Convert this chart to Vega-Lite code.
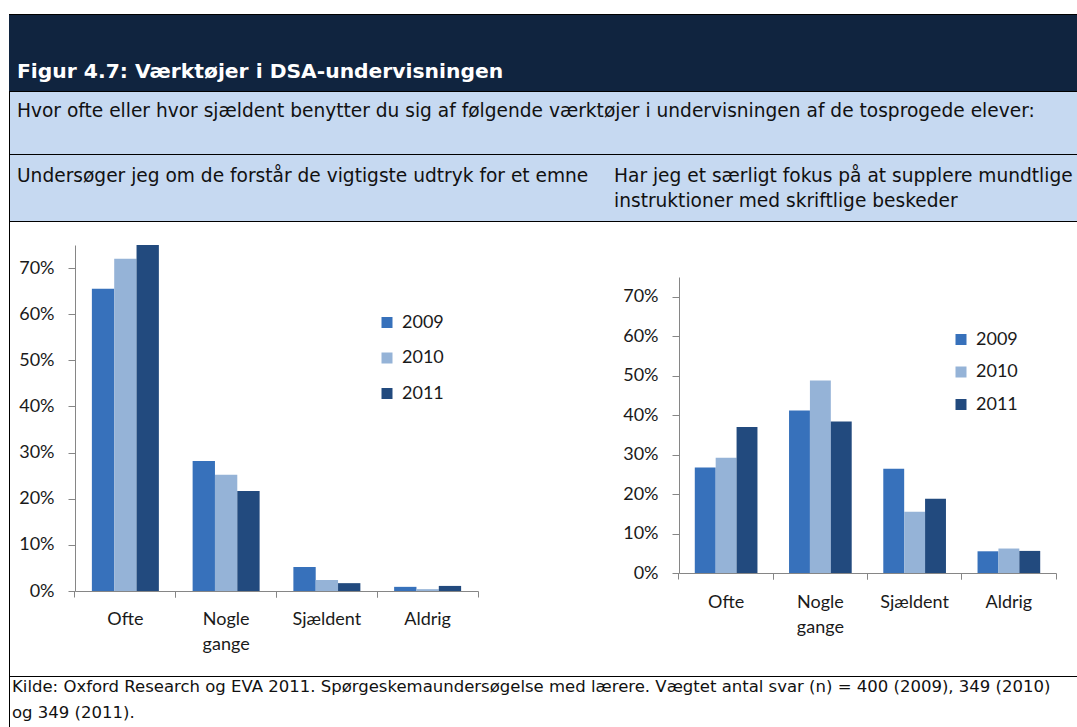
{
  "$schema": "https://vega.github.io/schema/vega-lite/v6.json",
  "padding": {"left": 9, "top": 14, "right": 0, "bottom": 0},
  "background": "#ffffff",
  "config": {"view": {"stroke": null}, "concat": {"spacing": 0}},
  "datasets": {
    "a": [
      {"kategori": "Ofte", "aar": "2009", "andel": 0.655},
      {"kategori": "Ofte", "aar": "2010", "andel": 0.72},
      {"kategori": "Ofte", "aar": "2011", "andel": 0.75},
      {"kategori": "Nogle gange", "aar": "2009", "andel": 0.282},
      {"kategori": "Nogle gange", "aar": "2010", "andel": 0.252},
      {"kategori": "Nogle gange", "aar": "2011", "andel": 0.217},
      {"kategori": "Sjældent", "aar": "2009", "andel": 0.052},
      {"kategori": "Sjældent", "aar": "2010", "andel": 0.024},
      {"kategori": "Sjældent", "aar": "2011", "andel": 0.017},
      {"kategori": "Aldrig", "aar": "2009", "andel": 0.009},
      {"kategori": "Aldrig", "aar": "2010", "andel": 0.004},
      {"kategori": "Aldrig", "aar": "2011", "andel": 0.011}
    ],
    "b": [
      {"kategori": "Ofte", "aar": "2009", "andel": 0.267},
      {"kategori": "Ofte", "aar": "2010", "andel": 0.292},
      {"kategori": "Ofte", "aar": "2011", "andel": 0.37},
      {"kategori": "Nogle gange", "aar": "2009", "andel": 0.412},
      {"kategori": "Nogle gange", "aar": "2010", "andel": 0.488},
      {"kategori": "Nogle gange", "aar": "2011", "andel": 0.384},
      {"kategori": "Sjældent", "aar": "2009", "andel": 0.264},
      {"kategori": "Sjældent", "aar": "2010", "andel": 0.155},
      {"kategori": "Sjældent", "aar": "2011", "andel": 0.188},
      {"kategori": "Aldrig", "aar": "2009", "andel": 0.055},
      {"kategori": "Aldrig", "aar": "2010", "andel": 0.062},
      {"kategori": "Aldrig", "aar": "2011", "andel": 0.056}
    ],
    "none": []
  },
  "spacing": 0,
  "resolve": {"scale": {"color": "independent", "xOffset": "independent"}, "legend": {"color": "independent"}},
  "vconcat": [
    {"width": 1068, "height": 1, "view": {"fill": "#000000", "stroke": null}, "data": {"name": "none"}, "mark": "text", "encoding": {"text": {"value": ""}}},
    {"width": 1068, "height": 76, "view": {"fill": "#10243f", "stroke": null}, "data": {"name": "none"}, "mark": "text", "encoding": {"text": {"value": ""}},
      "title": {"text": "Figur 4.7: Værktøjer i DSA-undervisningen", "orient": "bottom", "anchor": "start", "frame": "group", "offset": -12.7, "dx": 8, "baseline": "alphabetic", "font": "DejaVu Sans", "fontSize": 20.3, "fontWeight": "bold", "color": "#ffffff"}},
    {"width": 1068, "height": 1, "view": {"fill": "#000000", "stroke": null}, "data": {"name": "none"}, "mark": "text", "encoding": {"text": {"value": ""}}},
    {
      "bounds": "flush", "spacing": 0,
      "hconcat": [
        {"width": 1, "height": 62, "view": {"fill": "#000000", "stroke": null}, "data": {"name": "none"}, "mark": "text", "encoding": {"text": {"value": ""}}},
        {"width": 1067, "height": 62, "view": {"fill": "#c6d9f1", "stroke": null}, "data": {"name": "none"}, "mark": "text", "encoding": {"text": {"value": ""}},
          "title": {"text": "Hvor ofte eller hvor sjældent benytter du sig af følgende værktøjer i undervisningen af de tosprogede elever:", "orient": "bottom", "anchor": "start", "frame": "group", "offset": -37.3, "dx": 7, "baseline": "alphabetic", "font": "DejaVu Sans", "fontSize": 18.6, "fontWeight": "normal", "color": "#111111"}}
      ]
    },
    {"width": 1068, "height": 1, "view": {"fill": "#000000", "stroke": null}, "data": {"name": "none"}, "mark": "text", "encoding": {"text": {"value": ""}}},
    {
      "bounds": "flush", "spacing": 0,
      "hconcat": [
        {"width": 1, "height": 66, "view": {"fill": "#000000", "stroke": null}, "data": {"name": "none"}, "mark": "text", "encoding": {"text": {"value": ""}}},
        {"width": 596, "height": 66, "view": {"fill": "#c6d9f1", "stroke": null}, "data": {"name": "none"}, "mark": "text", "encoding": {"text": {"value": ""}},
          "title": {"text": "Undersøger jeg om de forstår de vigtigste udtryk for et emne", "orient": "bottom", "anchor": "start", "frame": "group", "offset": -39.3, "dx": 7, "baseline": "alphabetic", "font": "DejaVu Sans", "fontSize": 18.6, "fontWeight": "normal", "color": "#111111"}},
        {"width": 471, "height": 66, "view": {"fill": "#c6d9f1", "stroke": null}, "data": {"name": "none"}, "mark": "text", "encoding": {"text": {"value": ""}},
          "title": {"text": ["Har jeg et særligt fokus på at supplere mundtlige", "instruktioner med skriftlige beskeder"], "lineHeight": 25, "orient": "bottom", "anchor": "start", "frame": "group", "offset": -39.3, "dx": 8, "baseline": "alphabetic", "font": "DejaVu Sans", "fontSize": 18.6, "fontWeight": "normal", "color": "#111111"}}
      ]
    },
    {"width": 1068, "height": 1, "view": {"fill": "#000000", "stroke": null}, "data": {"name": "none"}, "mark": "text", "encoding": {"text": {"value": ""}}},
    {
      "bounds": "flush", "spacing": 0,
      "resolve": {"scale": {"color": "independent", "xOffset": "independent"}, "legend": {"color": "independent"}},
      "hconcat": [
        {"width": 1, "height": 454, "view": {"fill": "#000000", "stroke": null}, "data": {"name": "none"}, "mark": "text", "encoding": {"text": {"value": ""}}},
        {"width": 65, "height": 1, "data": {"name": "none"}, "mark": "text", "encoding": {"text": {"value": ""}}},
        {
          "width": 403, "height": 369,
          "data": {"name": "a"},
          "encoding": {
            "xOffset": {"field": "aar", "type": "nominal", "scale": {"paddingInner": 0, "paddingOuter": 0}},
            "y": {"field": "andel", "type": "quantitative", "scale": {"domain": [0, 0.75], "nice": false, "range": [369, 23]},
              "axis": {"orient": "left", "values": [0, 0.1, 0.2, 0.3, 0.4, 0.5, 0.6, 0.7], "format": ".0%", "grid": false, "title": null, "domainColor": "#868686", "tickColor": "#868686", "tickSize": 7, "labelPadding": 14, "labelFont": "Lato", "labelFontSize": 18, "labelColor": "#1a1a1a"}},
            "color": {"field": "aar", "type": "nominal", "scale": {"domain": ["2009", "2010", "2011"], "range": ["#3771bb", "#95b3d7", "#224a7e"]},
              "legend": {"title": null, "orient": "none", "legendX": 303, "legendY": 91.5, "symbolType": "square", "symbolSize": 121, "symbolStrokeWidth": 0, "symbolOpacity": 1, "labelFont": "Lato", "labelFontSize": 18, "labelColor": "#1a1a1a", "rowPadding": 17.5, "labelOffset": 6}}
          },
          "layer": [
            {"mark": {"type": "bar"},
              "encoding": {"x": {"field": "kategori", "type": "nominal", "sort": ["Ofte", "Nogle gange", "Sjældent", "Aldrig"], "scale": {"paddingInner": 0.335, "paddingOuter": 0.1675},
                "axis": {"orient": "bottom", "title": null, "ticks": false, "tickSize": 0, "labelAngle": 0, "labelOverlap": false, "labelExpr": "datum.value == 'Nogle gange' ? ['Nogle', 'gange'] : datum.value", "labelFont": "Lato", "labelFontSize": 18, "labelColor": "#1a1a1a", "labelLineHeight": 25, "labelPadding": 19.5, "domainColor": "#868686"}}}},
            {"mark": {"type": "bar", "opacity": 0},
              "encoding": {"x": {"field": "kategori", "type": "nominal", "sort": ["Ofte", "Nogle gange", "Sjældent", "Aldrig"], "scale": {"paddingInner": 0.335, "paddingOuter": 0.1675},
                "axis": {"orient": "bottom", "title": null, "bandPosition": -0.2519, "labels": false, "domain": false, "tickSize": 6, "tickColor": "#868686"}}}},
            {"mark": {"type": "bar", "opacity": 0},
              "encoding": {"x": {"field": "kategori", "type": "nominal", "sort": ["Ofte", "Nogle gange", "Sjældent", "Aldrig"], "scale": {"paddingInner": 0.335, "paddingOuter": 0.1675},
                "axis": {"orient": "bottom", "title": null, "bandPosition": 1.2519, "labels": false, "domain": false, "tickSize": 6, "tickColor": "#868686"}}}}
          ],
          "resolve": {"axis": {"x": "independent"}}
        },
        {"width": 201, "height": 1, "data": {"name": "none"}, "mark": "text", "encoding": {"text": {"value": ""}}},
        {
          "width": 377, "height": 351,
          "data": {"name": "b"},
          "encoding": {
            "xOffset": {"field": "aar", "type": "nominal", "scale": {"paddingInner": 0, "paddingOuter": 0}},
            "y": {"field": "andel", "type": "quantitative", "scale": {"domain": [0, 0.75], "nice": false, "range": [351, 55]},
              "axis": {"orient": "left", "values": [0, 0.1, 0.2, 0.3, 0.4, 0.5, 0.6, 0.7], "format": ".0%", "grid": false, "title": null, "domainColor": "#868686", "tickColor": "#868686", "tickSize": 7, "labelPadding": 14, "labelFont": "Lato", "labelFontSize": 18, "labelColor": "#1a1a1a"}},
            "color": {"field": "aar", "type": "nominal", "scale": {"domain": ["2009", "2010", "2011"], "range": ["#3771bb", "#95b3d7", "#224a7e"]},
              "legend": {"title": null, "orient": "none", "legendX": 273, "legendY": 108.5, "symbolType": "square", "symbolSize": 121, "symbolStrokeWidth": 0, "symbolOpacity": 1, "labelFont": "Lato", "labelFontSize": 18, "labelColor": "#1a1a1a", "rowPadding": 14.5, "labelOffset": 6}}
          },
          "layer": [
            {"mark": {"type": "bar"},
              "encoding": {"x": {"field": "kategori", "type": "nominal", "sort": ["Ofte", "Nogle gange", "Sjældent", "Aldrig"], "scale": {"paddingInner": 0.335, "paddingOuter": 0.1675},
                "axis": {"orient": "bottom", "title": null, "ticks": false, "tickSize": 0, "labelAngle": 0, "labelOverlap": false, "labelExpr": "datum.value == 'Nogle gange' ? ['Nogle', 'gange'] : datum.value", "labelFont": "Lato", "labelFontSize": 18, "labelColor": "#1a1a1a", "labelLineHeight": 25, "labelPadding": 20, "domainColor": "#868686"}}}},
            {"mark": {"type": "bar", "opacity": 0},
              "encoding": {"x": {"field": "kategori", "type": "nominal", "sort": ["Ofte", "Nogle gange", "Sjældent", "Aldrig"], "scale": {"paddingInner": 0.335, "paddingOuter": 0.1675},
                "axis": {"orient": "bottom", "title": null, "bandPosition": -0.2519, "labels": false, "domain": false, "tickSize": 6, "tickColor": "#868686"}}}},
            {"mark": {"type": "bar", "opacity": 0},
              "encoding": {"x": {"field": "kategori", "type": "nominal", "sort": ["Ofte", "Nogle gange", "Sjældent", "Aldrig"], "scale": {"paddingInner": 0.335, "paddingOuter": 0.1675},
                "axis": {"orient": "bottom", "title": null, "bandPosition": 1.2519, "labels": false, "domain": false, "tickSize": 6, "tickColor": "#868686"}}}}
          ],
          "resolve": {"axis": {"x": "independent"}}
        },
        {"width": 21, "height": 1, "data": {"name": "none"}, "mark": "text", "encoding": {"text": {"value": ""}}}
      ]
    },
    {"width": 1068, "height": 1, "view": {"fill": "#000000", "stroke": null}, "data": {"name": "none"}, "mark": "text", "encoding": {"text": {"value": ""}}},
    {
      "bounds": "flush", "spacing": 0,
      "hconcat": [
        {"width": 1, "height": 50, "view": {"fill": "#000000", "stroke": null}, "data": {"name": "none"}, "mark": "text", "encoding": {"text": {"value": ""}}},
        {"width": 1067, "height": 50, "data": {"name": "none"}, "mark": "text", "encoding": {"text": {"value": ""}},
          "title": {"text": ["Kilde: Oxford Research og EVA 2011. Spørgeskemaundersøgelse med lærere.  Vægtet antal svar (n) = 400 (2009), 349 (2010)", "og 349 (2011)."], "lineHeight": 26, "orient": "bottom", "anchor": "start", "frame": "group", "offset": -34.7, "dx": 2, "baseline": "alphabetic", "font": "DejaVu Sans", "fontSize": 16.5, "fontWeight": "normal", "color": "#111111"}}
      ]
    }
  ]
}
